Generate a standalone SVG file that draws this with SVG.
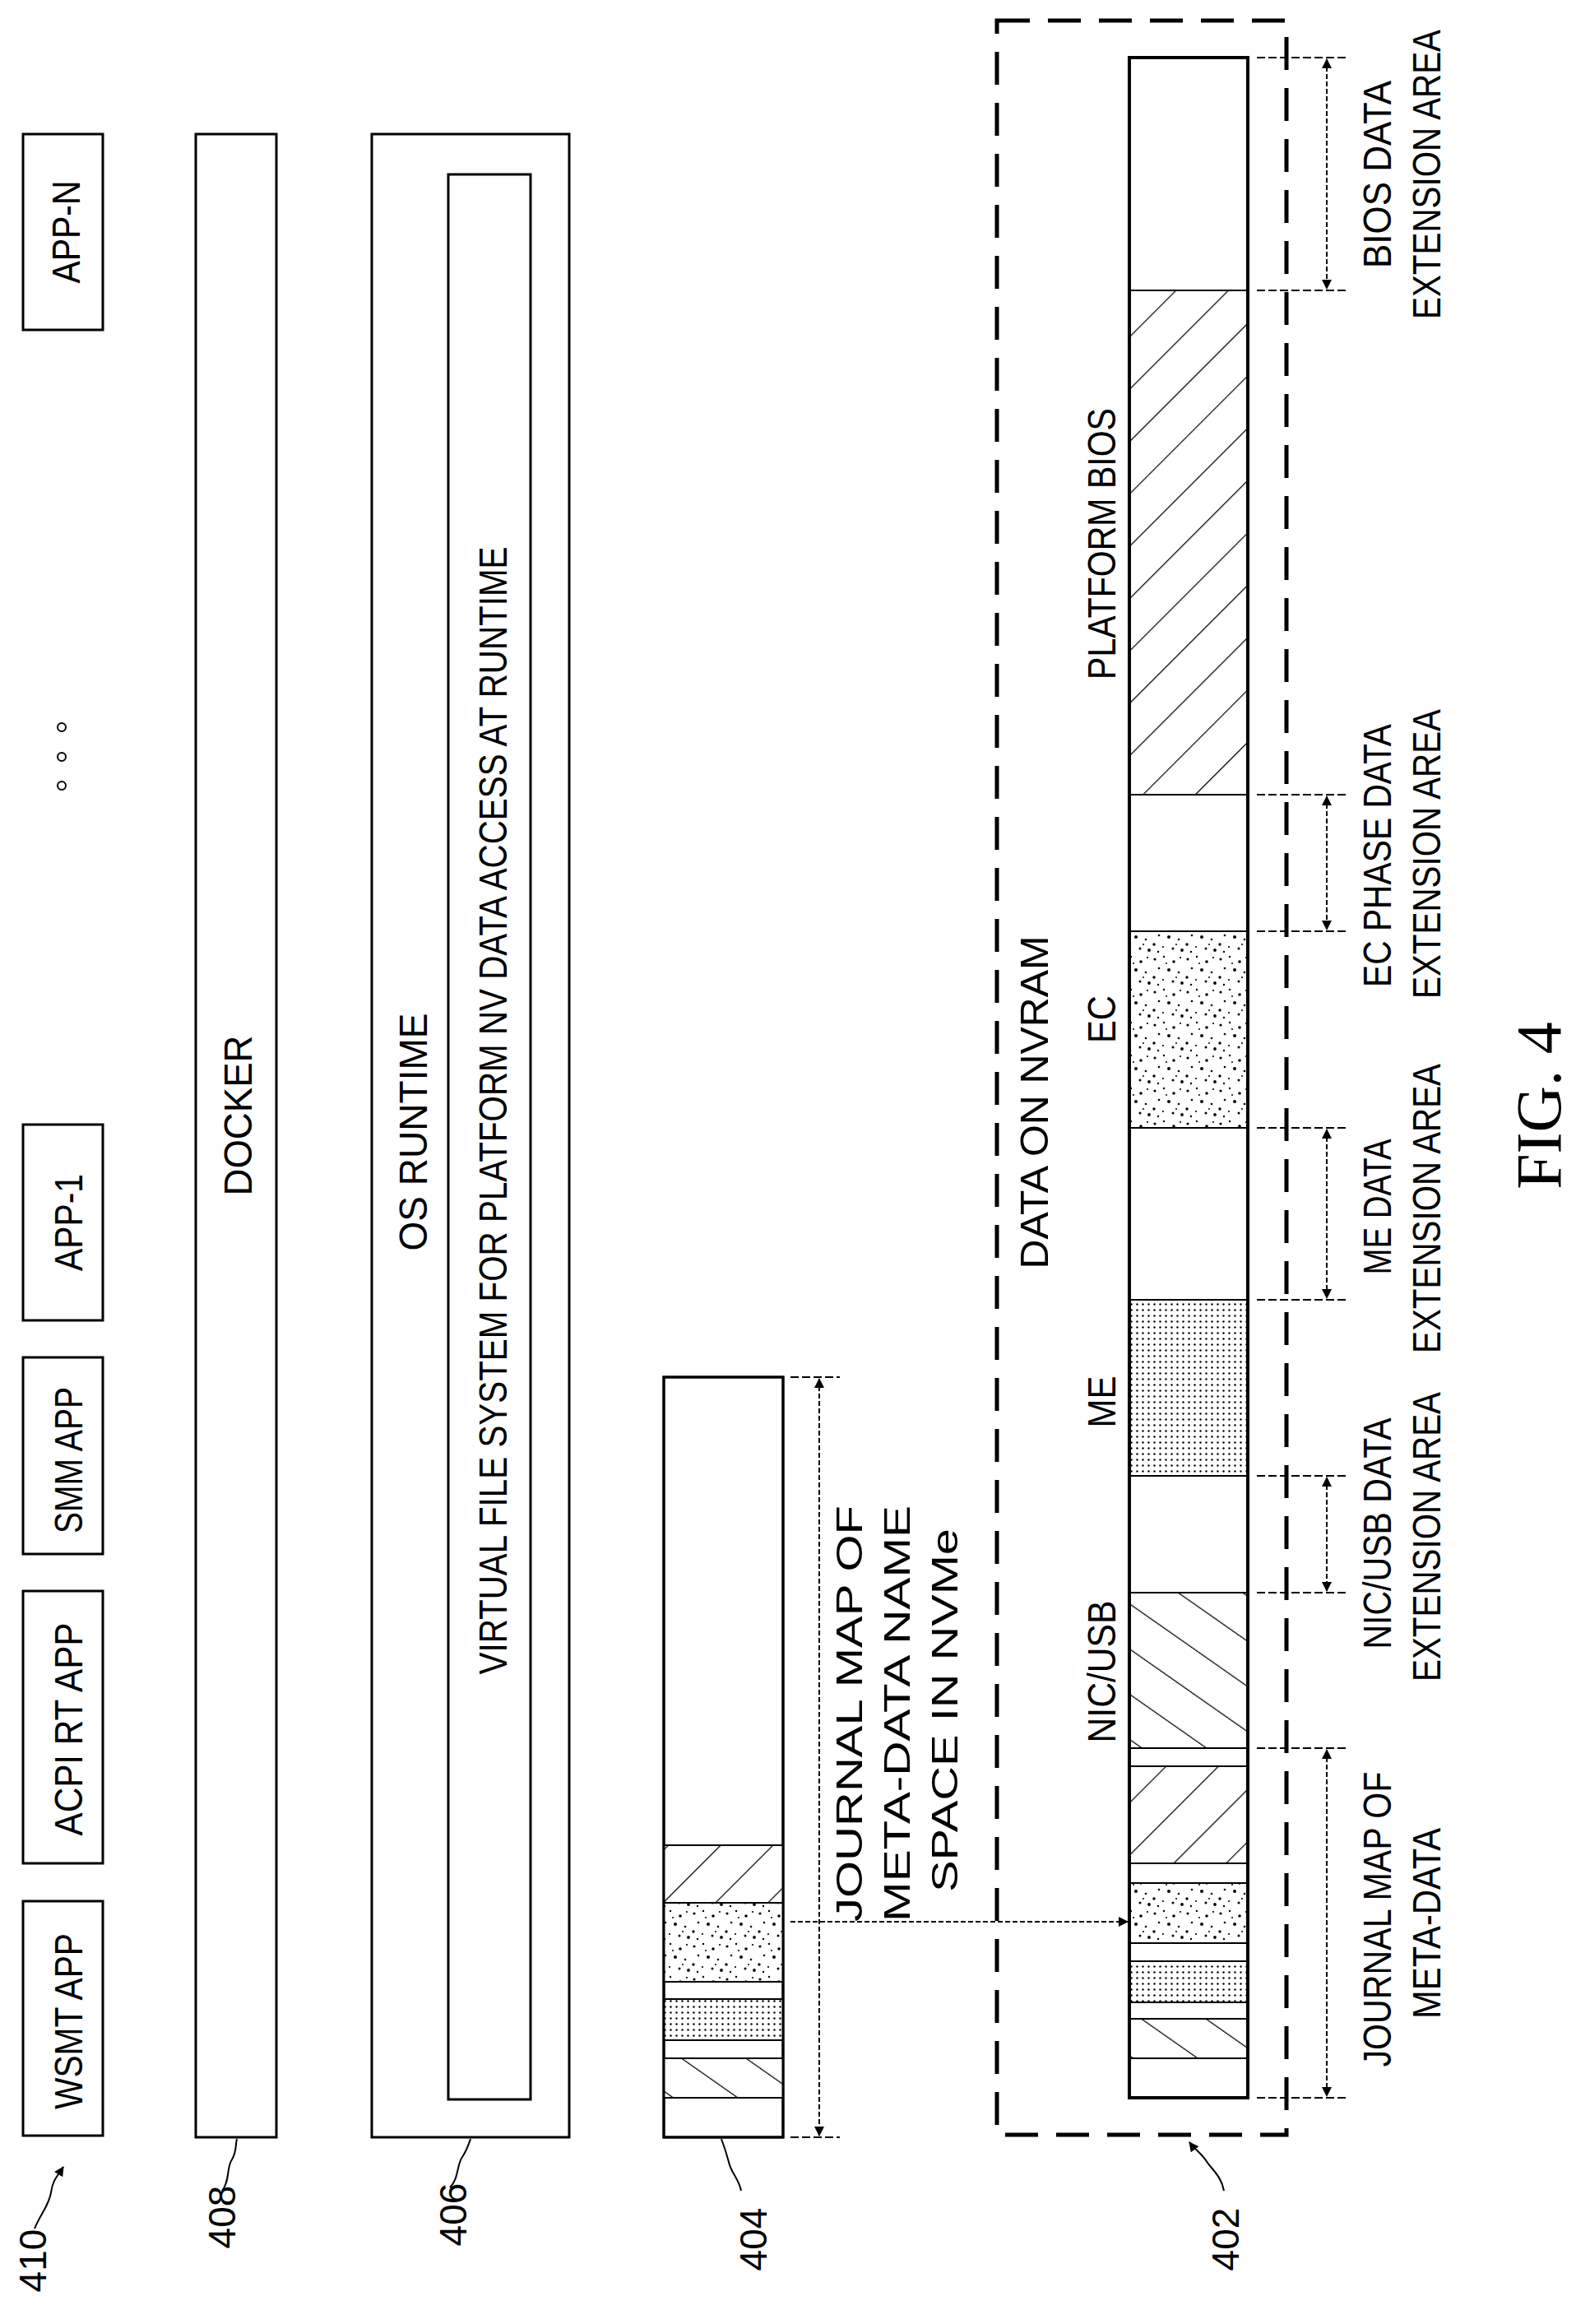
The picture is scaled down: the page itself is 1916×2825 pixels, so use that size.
<svg xmlns="http://www.w3.org/2000/svg" width="1916" height="2825" viewBox="0 0 1916 2825">
<style>
.box{fill:#fff;stroke:#000;stroke-width:3}
.seg{stroke:#000;stroke-width:2}
.t{font-family:"Liberation Sans",Arial,sans-serif;font-size:48px;fill:#000}
.s{font-family:"Liberation Sans",Arial,sans-serif;font-size:44px;fill:#000}
.n{font-family:"Liberation Sans",Arial,sans-serif;font-size:46px;fill:#000}
.ext{stroke:#000;stroke-width:2;stroke-dasharray:10 4;fill:none}
.dim{stroke:#000;stroke-width:2;stroke-dasharray:6 3;fill:none}
.lead{stroke:#000;stroke-width:2;fill:none}
</style>
<defs>
<pattern id="hf" width="45" height="45" patternUnits="userSpaceOnUse" patternTransform="rotate(45)"><rect width="45" height="45" fill="#fff"/><line x1="0" y1="0" x2="0" y2="45" stroke="#000" stroke-width="2.5"/></pattern>
<pattern id="hb" width="45" height="45" patternUnits="userSpaceOnUse" patternTransform="rotate(-55)"><rect width="45" height="45" fill="#fff"/><line x1="0" y1="0" x2="0" y2="45" stroke="#000" stroke-width="2.5"/></pattern>
<pattern id="dots" width="7" height="7" patternUnits="userSpaceOnUse"><rect width="7" height="7" fill="#fff"/><circle cx="3.5" cy="3.5" r="1.2" fill="#000"/></pattern>
<pattern id="spk" width="40" height="40" patternUnits="userSpaceOnUse"><rect width="40" height="40" fill="#fff"/><circle cx="4" cy="6" r="1.6"/><circle cx="15" cy="3" r="1.2"/><circle cx="27" cy="9" r="1.8"/><circle cx="35" cy="4" r="1.1"/><circle cx="9" cy="17" r="1.3"/><circle cx="21" cy="19" r="2"/><circle cx="33" cy="22" r="1.3"/><circle cx="3" cy="28" r="1.7"/><circle cx="14" cy="31" r="1.1"/><circle cx="26" cy="33" r="1.5"/><circle cx="37" cy="35" r="1.9"/><circle cx="18" cy="11" r="1"/><circle cx="30" cy="28" r="1"/><circle cx="8" cy="37" r="1.2"/></pattern>
<marker id="ah" markerWidth="12" markerHeight="12" refX="11" refY="6" orient="auto" markerUnits="userSpaceOnUse"><path d="M0,0 L12,6 L0,12 Z" fill="#000"/></marker>
<marker id="as" markerWidth="12" markerHeight="12" refX="1" refY="6" orient="auto" markerUnits="userSpaceOnUse"><path d="M12,0 L0,6 L12,12 Z" fill="#000"/></marker>
</defs>

<g id="apps">
<rect class="box" x="28" y="163" width="97" height="238"/>
<text class="t" transform="translate(97,282) rotate(-90)" text-anchor="middle" textLength="125" lengthAdjust="spacingAndGlyphs">APP-N</text>
<circle cx="75" cy="884" r="5" fill="none" stroke="#000" stroke-width="2"/>
<circle cx="75" cy="920" r="5" fill="none" stroke="#000" stroke-width="2"/>
<circle cx="75" cy="955" r="5" fill="none" stroke="#000" stroke-width="2"/>
<rect class="box" x="28" y="1367" width="97" height="238"/>
<text class="t" transform="translate(100,1486) rotate(-90)" text-anchor="middle" textLength="118" lengthAdjust="spacingAndGlyphs">APP-1</text>
<rect class="box" x="28" y="1650" width="97" height="239"/>
<text class="t" transform="translate(100,1775) rotate(-90)" text-anchor="middle" textLength="178" lengthAdjust="spacingAndGlyphs">SMM APP</text>
<rect class="box" x="28" y="1934" width="97" height="331"/>
<text class="t" transform="translate(100,2102) rotate(-90)" text-anchor="middle" textLength="259" lengthAdjust="spacingAndGlyphs">ACPI RT APP</text>
<rect class="box" x="28" y="2311" width="97" height="285"/>
<text class="t" transform="translate(100,2457) rotate(-90)" text-anchor="middle" textLength="214" lengthAdjust="spacingAndGlyphs">WSMT APP</text>
</g>

<g id="docker">
<rect class="box" x="238" y="163" width="98" height="2435"/>
<text class="t" transform="translate(306,1356) rotate(-90)" text-anchor="middle" textLength="195" lengthAdjust="spacingAndGlyphs">DOCKER</text>
</g>

<g id="os">
<rect class="box" x="452" y="163" width="240" height="2435"/>
<text class="t" transform="translate(519,1376) rotate(-90)" text-anchor="middle" textLength="289" lengthAdjust="spacingAndGlyphs">OS RUNTIME</text>
<rect class="box" x="545" y="212" width="100" height="2340"/>
<text class="t" transform="translate(616,1350) rotate(-90)" text-anchor="middle" textLength="1371" lengthAdjust="spacingAndGlyphs">VIRTUAL FILE SYSTEM FOR PLATFORM NV DATA ACCESS AT RUNTIME</text>
</g>

<g id="nvme404">
<rect class="box" x="807" y="1674" width="145" height="924"/>
<rect class="seg" x="807" y="2243" width="145" height="70" fill="url(#hf)"/>
<rect class="seg" x="807" y="2313" width="145" height="96" fill="url(#spk)"/>
<rect class="seg" x="807" y="2430" width="145" height="50" fill="url(#dots)"/>
<rect class="seg" x="807" y="2502" width="145" height="48" fill="url(#hb)"/>
<rect x="807" y="1674" width="145" height="924" fill="none" stroke="#000" stroke-width="3"/>
<line class="ext" x1="961" y1="1674" x2="1021" y2="1674"/>
<line class="ext" x1="961" y1="2598" x2="1021" y2="2598"/>
<line class="dim" x1="996" y1="1676" x2="996" y2="2596" marker-start="url(#as)" marker-end="url(#ah)"/>
<text class="s" transform="translate(1048,2083) rotate(-90)" text-anchor="middle" textLength="506" lengthAdjust="spacingAndGlyphs">JOURNAL MAP OF</text>
<text class="s" transform="translate(1106,2083) rotate(-90)" text-anchor="middle" textLength="506" lengthAdjust="spacingAndGlyphs">META-DATA NAME</text>
<text class="s" transform="translate(1164,2079) rotate(-90)" text-anchor="middle" textLength="442" lengthAdjust="spacingAndGlyphs">SPACE IN NVMe</text>
</g>

<g id="nvram402">
<rect x="1212" y="25" width="352" height="2570" fill="none" stroke="#000" stroke-width="5" stroke-dasharray="40 22"/>
<text class="t" transform="translate(1274,1340) rotate(-90)" text-anchor="middle" textLength="405" lengthAdjust="spacingAndGlyphs">DATA ON NVRAM</text>
<rect class="box" x="1373" y="70" width="144" height="2480"/>
<rect class="seg" x="1373" y="353" width="144" height="613" fill="url(#hf)"/>
<rect class="seg" x="1373" y="1132" width="144" height="239" fill="url(#spk)"/>
<rect class="seg" x="1373" y="1580" width="144" height="214" fill="url(#dots)"/>
<rect class="seg" x="1373" y="1936" width="144" height="189" fill="url(#hb)"/>
<rect class="seg" x="1373" y="2147" width="144" height="118" fill="url(#hf)"/>
<rect class="seg" x="1373" y="2289" width="144" height="73" fill="url(#spk)"/>
<rect class="seg" x="1373" y="2384" width="144" height="50" fill="url(#dots)"/>
<rect class="seg" x="1373" y="2454" width="144" height="48" fill="url(#hb)"/>
<rect x="1373" y="70" width="144" height="2480" fill="none" stroke="#000" stroke-width="4"/>
<text class="t" transform="translate(1356,661) rotate(-90)" text-anchor="middle" textLength="330" lengthAdjust="spacingAndGlyphs">PLATFORM BIOS</text>
<text class="t" transform="translate(1356,1239) rotate(-90)" text-anchor="middle" textLength="58" lengthAdjust="spacingAndGlyphs">EC</text>
<text class="t" transform="translate(1356,1704) rotate(-90)" text-anchor="middle" textLength="63" lengthAdjust="spacingAndGlyphs">ME</text>
<text class="t" transform="translate(1356,2032) rotate(-90)" text-anchor="middle" textLength="173" lengthAdjust="spacingAndGlyphs">NIC/USB</text>
</g>

<g id="extents">
<line class="ext" x1="1528" y1="70" x2="1636" y2="70"/>
<line class="ext" x1="1528" y1="353" x2="1636" y2="353"/>
<line class="ext" x1="1528" y1="966" x2="1636" y2="966"/>
<line class="ext" x1="1528" y1="1132" x2="1636" y2="1132"/>
<line class="ext" x1="1528" y1="1371" x2="1636" y2="1371"/>
<line class="ext" x1="1528" y1="1580" x2="1636" y2="1580"/>
<line class="ext" x1="1528" y1="1794" x2="1636" y2="1794"/>
<line class="ext" x1="1528" y1="1936" x2="1636" y2="1936"/>
<line class="ext" x1="1528" y1="2125" x2="1636" y2="2125"/>
<line class="ext" x1="1528" y1="2550" x2="1636" y2="2550"/>
<line class="dim" x1="1613" y1="72" x2="1613" y2="351" marker-start="url(#as)" marker-end="url(#ah)"/>
<line class="dim" x1="1613" y1="968" x2="1613" y2="1130" marker-start="url(#as)" marker-end="url(#ah)"/>
<line class="dim" x1="1613" y1="1373" x2="1613" y2="1578" marker-start="url(#as)" marker-end="url(#ah)"/>
<line class="dim" x1="1613" y1="1796" x2="1613" y2="1934" marker-start="url(#as)" marker-end="url(#ah)"/>
<line class="dim" x1="1613" y1="2127" x2="1613" y2="2548" marker-start="url(#as)" marker-end="url(#ah)"/>
<text class="t" transform="translate(1691,212) rotate(-90)" text-anchor="middle" textLength="228" lengthAdjust="spacingAndGlyphs">BIOS DATA</text>
<text class="t" transform="translate(1751,212) rotate(-90)" text-anchor="middle" textLength="352" lengthAdjust="spacingAndGlyphs">EXTENSION AREA</text>
<text class="t" transform="translate(1691,1040) rotate(-90)" text-anchor="middle" textLength="320" lengthAdjust="spacingAndGlyphs">EC PHASE DATA</text>
<text class="t" transform="translate(1751,1038) rotate(-90)" text-anchor="middle" textLength="352" lengthAdjust="spacingAndGlyphs">EXTENSION AREA</text>
<text class="t" transform="translate(1691,1467) rotate(-90)" text-anchor="middle" textLength="165" lengthAdjust="spacingAndGlyphs">ME DATA</text>
<text class="t" transform="translate(1751,1469) rotate(-90)" text-anchor="middle" textLength="352" lengthAdjust="spacingAndGlyphs">EXTENSION AREA</text>
<text class="t" transform="translate(1691,1864) rotate(-90)" text-anchor="middle" textLength="281" lengthAdjust="spacingAndGlyphs">NIC/USB DATA</text>
<text class="t" transform="translate(1751,1868) rotate(-90)" text-anchor="middle" textLength="352" lengthAdjust="spacingAndGlyphs">EXTENSION AREA</text>
<text class="t" transform="translate(1691,2333) rotate(-90)" text-anchor="middle" textLength="359" lengthAdjust="spacingAndGlyphs">JOURNAL MAP OF</text>
<text class="t" transform="translate(1751,2338) rotate(-90)" text-anchor="middle" textLength="232" lengthAdjust="spacingAndGlyphs">META-DATA</text>
</g>

<g id="connectors">
<line class="dim" x1="961" y1="2336" x2="1371" y2="2336" stroke-dasharray="14 8" marker-end="url(#ah)"/>
<path class="lead" d="M42,2709 C50,2690 60,2680 62,2665 C64,2650 70,2645 77,2634" marker-end="url(#ah)"/>
<path class="lead" d="M270,2663 C280,2650 275,2635 282,2625 C288,2615 286,2607 288,2600"/>
<path class="lead" d="M547,2659 C558,2648 555,2632 562,2622 C568,2613 570,2606 572,2600"/>
<path class="lead" d="M901,2663 C898,2648 888,2640 886,2628 C883,2617 880,2608 877,2600"/>
<path class="lead" d="M1488,2663 C1485,2645 1472,2636 1466,2626 C1460,2617 1452,2612 1446,2604" marker-end="url(#ah)"/>
</g>

<g id="labels">
<text class="n" transform="translate(56,2748) rotate(-90)" text-anchor="middle">410</text>
<text class="n" transform="translate(286,2695) rotate(-90)" text-anchor="middle">408</text>
<text class="n" transform="translate(567,2692) rotate(-90)" text-anchor="middle">406</text>
<text class="n" transform="translate(932,2722) rotate(-90)" text-anchor="middle">404</text>
<text class="n" transform="translate(1506,2722) rotate(-90)" text-anchor="middle">402</text>
<text transform="translate(1897,1344) rotate(-90)" text-anchor="middle" font-family="Liberation Serif, serif" font-size="78">FIG. 4</text>
</g>
</svg>
